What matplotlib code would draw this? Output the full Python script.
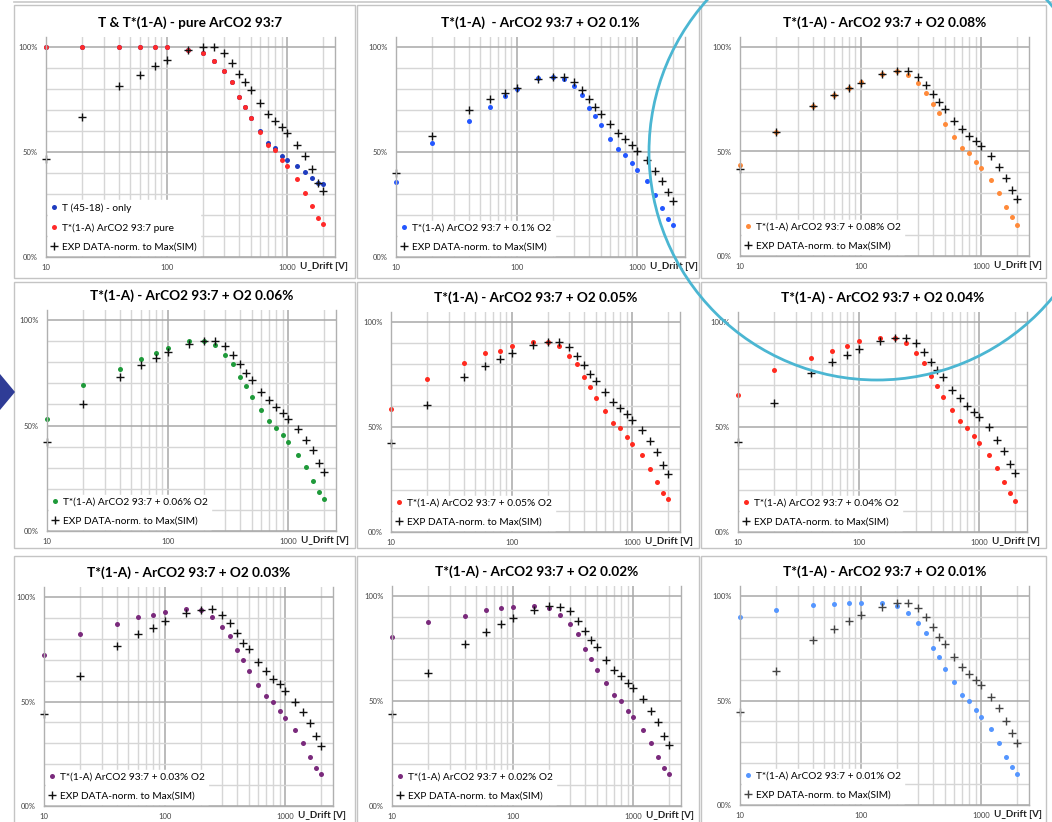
import matplotlib
matplotlib.use("Agg")
import matplotlib.pyplot as plt
from matplotlib.patches import Rectangle, Ellipse, Polygon
from matplotlib.lines import Line2D

plt.rcParams['font.family'] = ['Lato', 'DejaVu Sans']

# drift voltage [V]
U = [10, 20, 40, 60, 80, 100, 150, 200, 250, 300, 350, 400, 450, 500,
     600, 700, 800, 900, 1000, 1200, 1400, 1600, 1800, 2000]

# values in %
t_only = [100, 100, 100, 100, 100, 100, 98.4, 97.3, 93.3, 88.4, 83.3, 76.3, 71.4, 66.2,
          60.0, 54.3, 51.9, 48.3, 46.0, 43.2, 40.3, 37.8, 35.2, 34.8]
sim_pure = [100, 100, 100, 100, 100, 100, 98.4, 97.3, 93.3, 88.4, 83.3, 76.3, 71.4, 66.2,
            59.5, 53.5, 50.8, 46.0, 43.2, 37.3, 30.6, 24.4, 18.7, 15.6]
exp_pure = [46.5, 66.8, 81.3, 86.7, 91.0, 93.7, 98.4, 100, 99.8, 97.3, 92.5, 87.3, 83.3, 79.7,
            73.5, 68.3, 64.8, 61.7, 59.2, 53.5, 47.9, 41.7, 35.2, 31.3]

sim_010 = [35.7, 54.3, 64.6, 71.3, 76.5, 80.2, 85.2, 85.7, 84.9, 81.3, 77.0, 71.0, 67.1, 62.7,
           56.3, 51.3, 48.7, 44.6, 41.4, 36.3, 29.7, 23.5, 18.3, 15.1]
exp_010 = [40.0, 57.5, 70.0, 75.1, 78.1, 80.5, 84.6, 85.9, 85.7, 83.3, 79.7, 75.2, 71.6, 68.1,
           63.2, 59.2, 56.0, 53.5, 50.6, 46.2, 41.0, 36.3, 30.8, 26.5]

sim_008 = [43.5, 59.2, 71.7, 76.8, 80.2, 83.2, 87.0, 88.6, 86.7, 82.9, 77.8, 72.9, 68.3, 63.0,
           57.1, 51.9, 49.2, 45.1, 41.9, 36.2, 30.2, 23.5, 18.6, 14.9]
exp_008 = [41.6, 59.2, 71.7, 76.8, 80.2, 83.0, 87.0, 88.4, 88.4, 85.7, 81.7, 77.6, 73.5, 70.5,
           64.8, 60.6, 57.6, 54.9, 52.4, 47.8, 42.4, 37.3, 31.6, 27.5]

sim_006 = [53.1, 69.0, 76.8, 81.4, 84.5, 86.6, 90.2, 90.0, 88.2, 83.4, 79.3, 73.1, 68.6, 63.4,
           57.2, 52.0, 49.0, 45.5, 42.3, 36.0, 30.5, 23.9, 18.6, 15.0]
exp_006 = [42.0, 60.0, 73.1, 78.5, 82.0, 84.7, 88.6, 90.0, 90.0, 87.7, 83.6, 79.0, 74.9, 71.6,
           66.0, 61.9, 59.0, 56.0, 53.2, 48.5, 42.9, 38.4, 32.2, 28.1]

sim_005 = [58.4, 72.8, 80.4, 85.1, 86.2, 88.8, 90.7, 90.7, 88.6, 84.0, 79.9, 73.7, 69.1, 63.8,
           57.8, 52.1, 49.5, 45.4, 42.1, 36.6, 30.1, 23.7, 18.7, 15.5]
exp_005 = [42.2, 60.3, 73.6, 79.0, 82.3, 85.0, 89.1, 90.3, 90.5, 88.0, 83.9, 79.3, 75.3, 72.0,
           66.5, 61.9, 58.9, 56.2, 53.5, 48.4, 43.2, 38.3, 32.1, 27.8]

sim_004 = [65.2, 77.1, 82.8, 86.0, 88.6, 90.8, 92.4, 92.4, 89.8, 85.2, 80.4, 74.4, 69.6, 64.4,
           58.3, 52.8, 49.6, 45.5, 42.3, 36.6, 30.4, 23.7, 18.4, 14.9]
exp_004 = [42.9, 61.4, 75.5, 80.8, 84.3, 87.0, 90.8, 92.4, 92.4, 90.0, 85.9, 81.1, 77.1, 73.8,
           67.7, 63.6, 59.9, 57.2, 54.7, 49.8, 44.0, 38.8, 32.6, 28.3]

sim_003 = [72.2, 82.5, 87.1, 90.3, 91.2, 92.8, 94.1, 93.6, 90.3, 85.6, 81.5, 74.8, 70.0, 64.4,
           58.1, 52.6, 50.0, 45.3, 42.1, 36.4, 30.1, 23.4, 18.3, 15.2]
exp_003 = [43.9, 62.4, 76.6, 82.1, 85.3, 88.5, 92.5, 93.8, 94.1, 91.4, 87.4, 82.8, 78.1, 75.0,
           68.7, 64.6, 60.9, 58.5, 55.2, 50.0, 44.8, 39.7, 33.5, 28.7]

sim_002 = [80.3, 87.4, 90.6, 93.3, 94.1, 94.6, 95.2, 94.4, 91.1, 86.5, 81.9, 75.0, 70.0, 64.7,
           58.7, 52.8, 50.0, 45.3, 42.4, 36.4, 30.0, 23.4, 18.3, 15.1]
exp_002 = [44.0, 63.3, 77.1, 83.0, 86.6, 89.3, 93.2, 95.1, 94.8, 92.7, 88.1, 83.3, 79.2, 75.7,
           69.5, 64.9, 61.7, 58.8, 56.1, 50.9, 45.3, 40.1, 33.4, 29.1]

sim_001 = [90.0, 93.5, 95.7, 96.2, 96.5, 96.5, 96.7, 95.4, 92.0, 86.9, 82.2, 75.3, 70.7, 65.1,
           58.9, 52.7, 50.0, 45.5, 42.2, 36.6, 29.9, 23.2, 18.2, 15.0]
exp_001 = [44.4, 64.3, 78.8, 84.4, 88.1, 90.8, 94.7, 96.8, 96.8, 94.4, 89.8, 85.0, 80.4, 76.9,
           71.0, 66.2, 62.9, 59.6, 57.2, 51.8, 46.2, 40.4, 34.4, 29.5]

titles = ["T & T*(1-A) - pure ArCO2 93:7",
          "T*(1-A)  - ArCO2 93:7 + O2 0.1%",
          "T*(1-A) - ArCO2 93:7 + O2 0.08%",
          "T*(1-A) - ArCO2 93:7 + O2 0.06%",
          "T*(1-A) - ArCO2 93:7 + O2 0.05%",
          "T*(1-A) - ArCO2 93:7 + O2 0.04%",
          "T*(1-A) - ArCO2 93:7 + O2 0.03%",
          "T*(1-A) - ArCO2 93:7 + O2 0.02%",
          "T*(1-A) - ArCO2 93:7 + O2 0.01%"]
sim_labels = ["T*(1-A) ArCO2 93:7 pure",
              "T*(1-A) ArCO2 93:7 + 0.1% O2",
              "T*(1-A) ArCO2 93:7 + 0.08% O2",
              "T*(1-A) ArCO2 93:7 + 0.06% O2",
              "T*(1-A) ArCO2 93:7 + 0.05% O2",
              "T*(1-A) ArCO2 93:7 + 0.04% O2",
              "T*(1-A) ArCO2 93:7 + 0.03% O2",
              "T*(1-A) ArCO2 93:7 + 0.02% O2",
              "T*(1-A) ArCO2 93:7 + 0.01% O2"]
sim_data = [sim_pure, sim_010, sim_008, sim_006, sim_005, sim_004, sim_003, sim_002, sim_001]
exp_data = [exp_pure, exp_010, exp_008, exp_006, exp_005, exp_004, exp_003, exp_002, exp_001]
sim_colors = ['#ff2a2a', '#2457ff', '#ff8a3a', '#1f9a3a', '#ff2a1f', '#ff2a1f',
              '#7a2a7c', '#7a2a7c', '#5596ff']
exp_colors = ['#111111'] * 8 + ['#444444']

W, H = 1052, 822
# plot-area placement in pixels: x of U=10, y of 0%, y of 100%
left_px = [46, 396, 740, 47, 391, 738, 44, 392, 740]
zero_px = [257, 257, 256, 531, 532, 532, 806, 806, 805]
full_px = [47, 47, 47, 320, 322, 322, 597, 596, 596]
width_px = 289
top_extra = 10

fig = plt.figure(figsize=(W / 100, H / 100), dpi=100, facecolor='white')

# panel frames
cols = [(14, 355), (357, 699), (701, 1046)]
rows = [(5, 278), (282, 548), (556, 830)]
for (r0, r1) in rows:
    for (c0, c1) in cols:
        fig.add_artist(Rectangle((c0 / W, 1 - r1 / H), (c1 - c0) / W, (r1 - r0) / H,
                                 transform=fig.transFigure, fill=False,
                                 ec='#c4c4c4', lw=1.0))
fig.add_artist(Line2D([14 / W, 1], [1 - 2 / H, 1 - 2 / H], transform=fig.transFigure,
                      color='#c8c8c8', lw=1.2))

minor_x = [m * 10 ** e for e in (1, 2, 3) for m in range(2, 10) if m * 10 ** e <= 2500]
minor_y = [10, 20, 30, 40, 60, 70, 80, 90]

for i in range(9):
    y_top = full_px[i] - top_extra
    ax = fig.add_axes([left_px[i] / W, 1 - zero_px[i] / H, width_px / W,
                       (zero_px[i] - y_top) / H])
    ax.set_xscale('log')
    ax.set_xlim(10, 2500)
    ax.set_ylim(0, 100 * (zero_px[i] - y_top) / (zero_px[i] - full_px[i]))

    ax.set_xticks([10, 100, 1000])
    ax.set_xticklabels(['10', '100', '1000'])
    ax.set_xticks(minor_x, minor=True)
    ax.set_yticks([0, 50, 100])
    ax.set_yticklabels(['00%', '50%', '100%'])
    ax.set_yticks(minor_y, minor=True)
    ax.tick_params(which='both', length=0)
    ax.tick_params(axis='x', labelsize=5.5, colors='#444444', pad=5)
    ax.tick_params(axis='y', labelsize=5.5, colors='#444444', pad=6)
    ax.grid(True, which='major', color='#a8a8a8', lw=1.1)
    ax.grid(True, which='minor', color='#d6d6d6', lw=1.0)
    ax.set_axisbelow(True)
    ax.spines['top'].set_visible(False)
    for s in ['left', 'bottom', 'right']:
        ax.spines[s].set_color('#b0b0b0')
        ax.spines[s].set_linewidth(1.0)

    if i == 0:
        ax.plot(U, t_only, 'o', ms=3.6, color='#1f3cbf', mec='none',
                label='T (45-18) - only', clip_on=False)
    ax.plot(U, sim_data[i], 'o', ms=3.6, color=sim_colors[i], mec='none',
            label=sim_labels[i], clip_on=False)
    ax.plot(U, exp_data[i], '+', ms=6, mew=1.0, color=exp_colors[i],
            label='EXP DATA-norm. to Max(SIM)', clip_on=False)

    ax.set_title(titles[i], fontsize=9.8, fontweight='bold', pad=7)
    ax.text(1.045, -0.045, 'U_Drift [V]', transform=ax.transAxes, ha='right',
            va='center', fontsize=7.0, fontweight='bold', color='#222222')
    leg = ax.legend(loc='lower left', fontsize=7.3, frameon=True, fancybox=False,
                    handlelength=0.6, handletextpad=0.5, labelspacing=1.0,
                    borderpad=0.3, borderaxespad=0.2)
    leg.get_frame().set_facecolor('white')
    leg.get_frame().set_edgecolor('white')
    leg.get_frame().set_alpha(1.0)

# blue arrow head on the left
fig.add_artist(Polygon([(0, 1 - 374 / H), (15 / W, 1 - 392 / H), (0, 1 - 410 / H)],
                       closed=True, transform=fig.transFigure, fc='#2f3c96', ec='none'))

# cyan highlight circle
fig.add_artist(Ellipse((877 / W, 1 - 152 / H), 456 / W, 456 / H, transform=fig.transFigure,
                       fill=False, ec='#4bb6d2', lw=2.0, zorder=10))

fig.savefig('out.png', dpi=100, facecolor='white')
